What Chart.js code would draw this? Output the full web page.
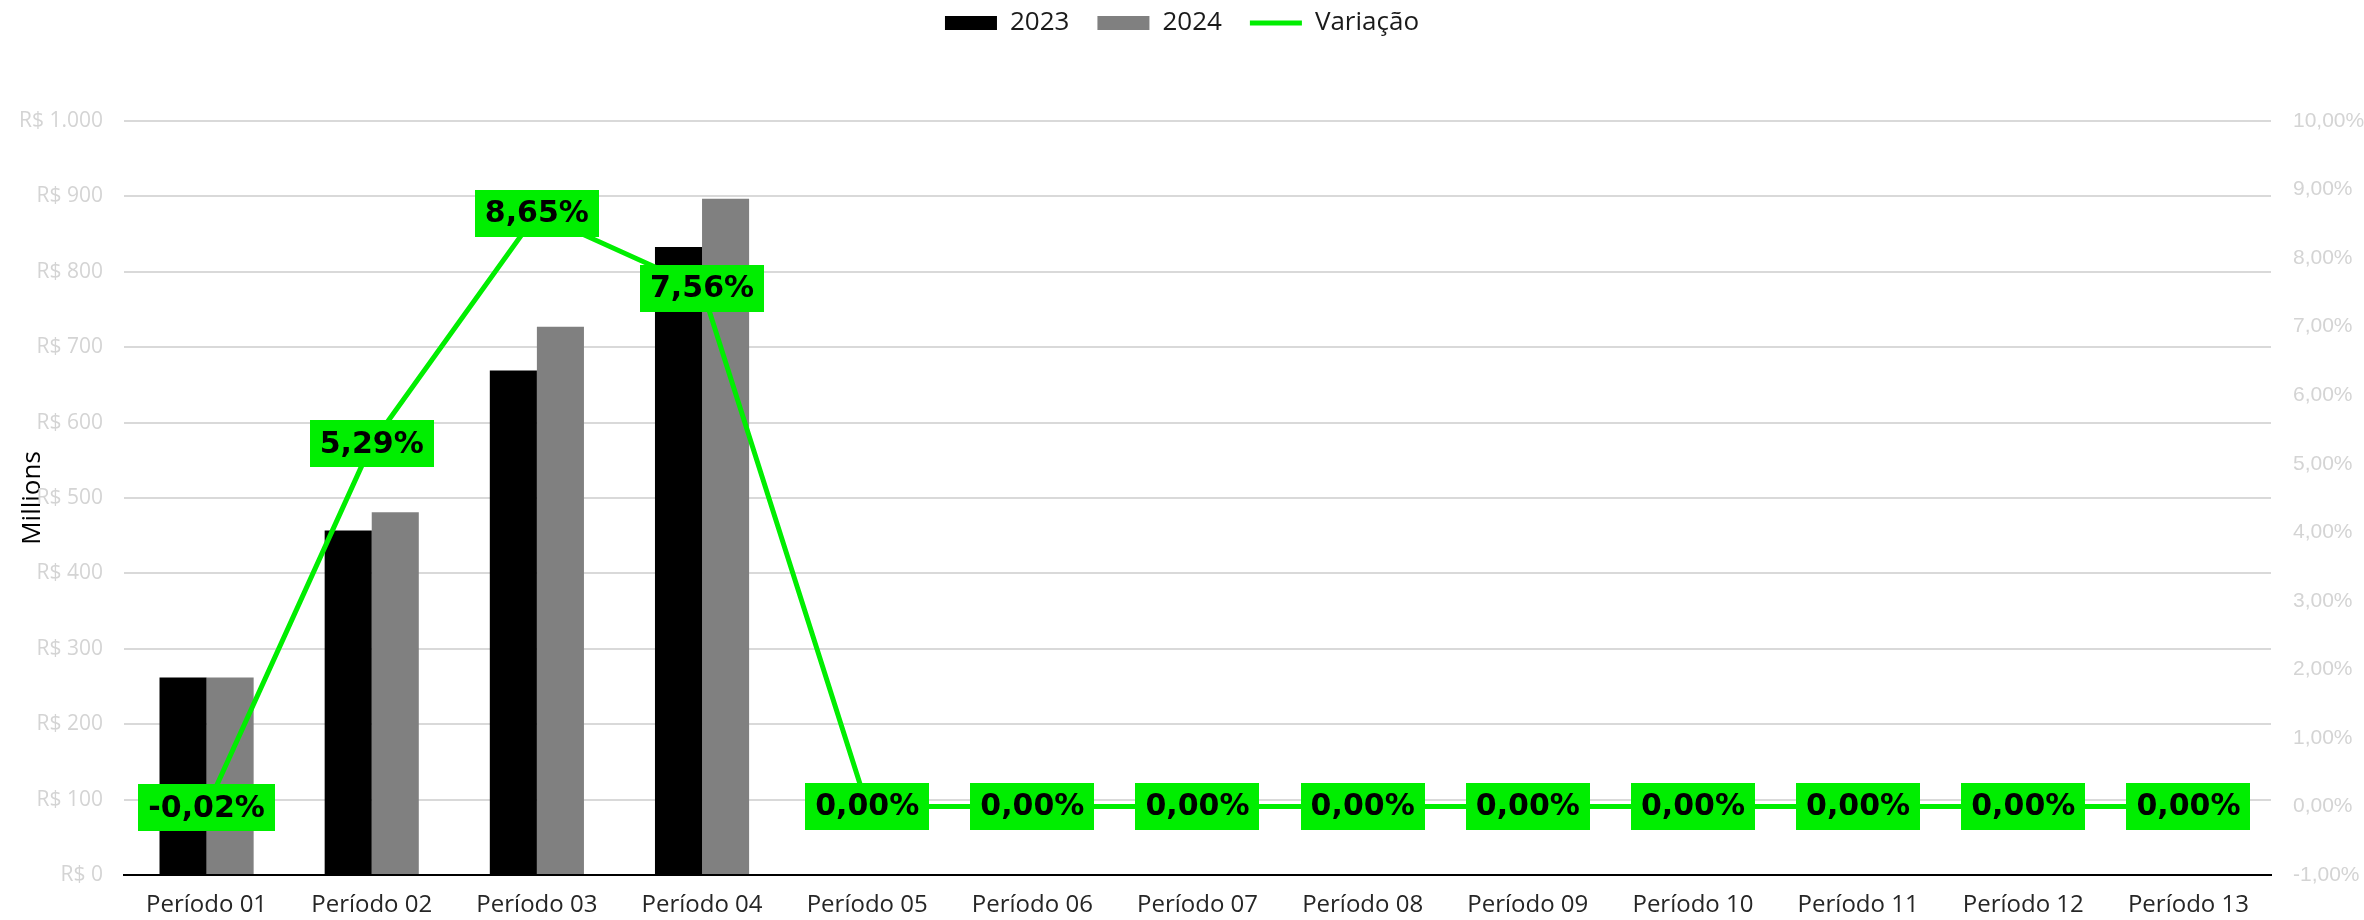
<!DOCTYPE html>
<html>
<head>
<meta charset="utf-8">
<script src="https://cdn.jsdelivr.net/npm/chart.js@4.4.1/dist/chart.umd.min.js"></script>
<style>
  html, body { margin: 0; padding: 0; background: #ffffff; }
  #wrap { width: 2364px; height: 920px; }
</style>
</head>
<body>
<div id="wrap"><canvas id="c" width="2364" height="920"></canvas></div>
<script>
const categories = ['Período 01','Período 02','Período 03','Período 04','Período 05','Período 06','Período 07','Período 08','Período 09','Período 10','Período 11','Período 12','Período 13'];
const values2023 = [262, 457, 669, 833, 0, 0, 0, 0, 0, 0, 0, 0, 0];
const values2024 = [262, 481, 727, 897, 0, 0, 0, 0, 0, 0, 0, 0, 0];
const variacao = [-0.02, 5.29, 8.65, 7.56, 0, 0, 0, 0, 0, 0, 0, 0, 0];
const seriesNames = ['2023', '2024', 'Variação'];

const GREEN = '#00EE00';

function pct(v) { return v.toFixed(2).replace('.', ',') + '%'; }
function brl(v) { return 'R$ ' + String(v).replace(/\B(?=(\d{3})+(?!\d))/g, '.'); }

const bgPlugin = {
  id: 'bg',
  beforeDraw(chart) {
    const ctx = chart.ctx;
    ctx.save();
    ctx.fillStyle = '#ffffff';
    ctx.fillRect(0, 0, chart.width, chart.height);
    ctx.restore();
  }
};

const legendTweak = {
  id: 'legendTweak',
  beforeInit(chart) {
    const lg = chart.legend;
    if (!lg) return;
    const origFit = lg.fit;
    lg.fit = function() { origFit.call(this); this.height = 121; };
    const origDraw = lg.draw;
    lg.draw = function() {
      const ctx = this.ctx;
      ctx.save();
      ctx.translate(0, -18);
      origDraw.apply(this, arguments);
      ctx.restore();
    };
  }
};

const labelPlugin = {
  id: 'pctLabels',
  afterDatasetsDraw(chart) {
    const ctx = chart.ctx;
    const meta = chart.getDatasetMeta(2);
    ctx.save();
    ctx.font = 'bold 30px "DejaVu Sans", sans-serif';
    ctx.textAlign = 'center';
    ctx.textBaseline = 'middle';
    meta.data.forEach((pt, i) => {
      const txt = pct(variacao[i]);
      const w = ctx.measureText(txt).width + 20;
      const h = 47;
      ctx.fillStyle = GREEN;
      ctx.fillRect(Math.round(pt.x - w / 2), Math.round(pt.y - h / 2), Math.round(w), h);
      ctx.fillStyle = '#000000';
      ctx.fillText(txt, pt.x, pt.y + 1);
    });
    ctx.restore();
  }
};

new Chart(document.getElementById('c'), {
  data: {
    labels: categories,
    datasets: [
      { type: 'bar', label: seriesNames[0], data: values2023, backgroundColor: '#000000', yAxisID: 'y', order: 1,
        barPercentage: 1.0, categoryPercentage: 0.57 },
      { type: 'bar', label: seriesNames[1], data: values2024, backgroundColor: '#808080', yAxisID: 'y', order: 1,
        barPercentage: 1.0, categoryPercentage: 0.57 },
      { type: 'line', label: seriesNames[2], data: variacao, borderColor: GREEN, backgroundColor: GREEN, borderWidth: 5,
        pointRadius: 0, pointHoverRadius: 0, tension: 0, yAxisID: 'y1', order: -1, pointStyle: 'line' }
    ]
  },
  options: {
    responsive: false,
    animation: false,
    events: [],
    layout: { padding: { left: 0, right: 0, top: 0, bottom: 0 } },
    plugins: {
      tooltip: { enabled: false },
      legend: {
        position: 'top',
        labels: {
          usePointStyle: true,
          pointStyleWidth: 52,
          boxHeight: 14,
          padding: 28,
          color: '#1a1a1a',
          font: { family: '"Open Sans", sans-serif', size: 26 },
          sort: (a, b) => a.datasetIndex - b.datasetIndex,
          generateLabels(chart) {
            const items = Chart.defaults.plugins.legend.labels.generateLabels(chart);
            items.forEach(it => {
              const ds = chart.data.datasets[it.datasetIndex];
              if (ds.type === 'line') {
                it.pointStyle = 'line';
                it.strokeStyle = GREEN;
                it.lineWidth = 5;
              } else {
                it.pointStyle = 'rect';
                it.lineWidth = 0;
                it.fillStyle = ds.backgroundColor;
              }
            });
            return items;
          }
        }
      }
    },
    scales: {
      x: {
        grid: { display: false, drawTicks: false },
        border: { display: true, color: '#000000', width: 2 },
        ticks: { color: '#262626', font: { family: '"Open Sans", sans-serif', size: 24 }, padding: 16, maxRotation: 0, autoSkip: false },
        afterFit(scale) { scale.height = 45; }
      },
      y: {
        position: 'left',
        min: 0, max: 1000,
        grid: { color: '#d9d9d9', lineWidth: 2, drawTicks: false },
        border: { display: false },
        ticks: { stepSize: 100, color: '#d4d4d4', padding: 21, font: { family: '"Open Sans", sans-serif', size: 21 },
          callback: (v) => brl(v) },
        title: { display: true, text: 'Millions', color: '#000000', font: { family: '"Open Sans", sans-serif', size: 26 },
          padding: { top: 17, bottom: 0 } },
        afterFit(scale) { scale.width = 124; }
      },
      y1: {
        position: 'right',
        min: -1, max: 10,
        grid: { display: false, drawTicks: false },
        border: { display: false },
        ticks: { stepSize: 1, color: '#d4d4d4', padding: 22, font: { family: '"Liberation Sans", Arial, sans-serif', size: 21 },
          callback: (v) => pct(v) },
        afterFit(scale) { scale.width = 93; }
      }
    }
  },
  plugins: [bgPlugin, legendTweak, labelPlugin]
});
</script>
</body>
</html>
